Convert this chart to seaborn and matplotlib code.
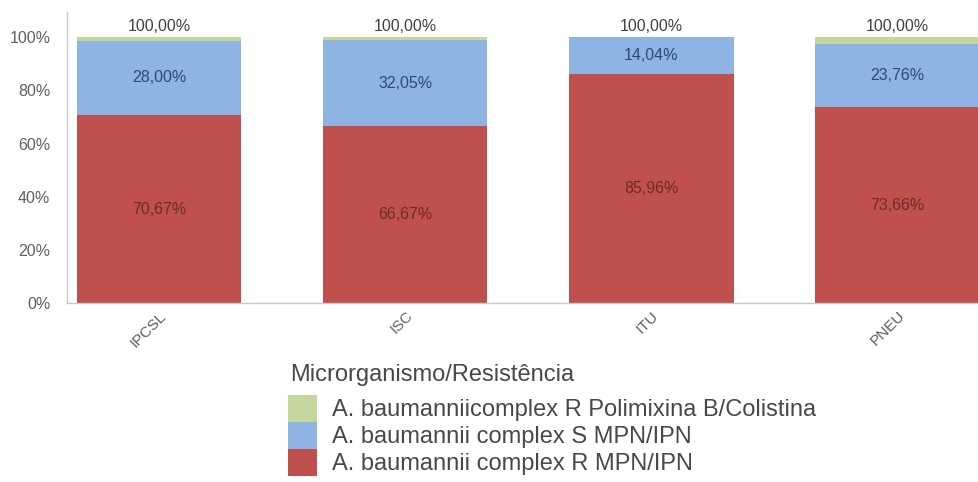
import matplotlib
matplotlib.use("Agg")
import matplotlib.pyplot as plt
import seaborn as sns
from matplotlib.patches import Patch

# ---- data ----
categories = ["IPCSL", "ISC", "ITU", "PNEU"]
r_mpn = [70.67, 66.67, 85.96, 73.66]      # A. baumannii complex R MPN/IPN
s_mpn = [28.00, 32.05, 14.04, 23.76]      # A. baumannii complex S MPN/IPN
r_poli = [1.33, 1.28, 0.00, 2.58]         # A. baumanniicomplex R Polimixina B/Colistina
totals = [100.00, 100.00, 100.00, 100.00]
series_names = ["A. baumanniicomplex R Polimixina B/Colistina",
                "A. baumannii complex S MPN/IPN",
                "A. baumannii complex R MPN/IPN"]
legend_title = "Microrganismo/Resistência"
yticks = [0, 20, 40, 60, 80, 100]

# ---- style ----
sns.set_style("white")
plt.rcParams["font.family"] = ["Liberation Sans", "DejaVu Sans"]

c_red = "#C0504D"
c_blue = "#8DB4E2"
c_green = "#C3D69B"

fig = plt.figure(figsize=(9.79, 4.82), dpi=100)
ax = fig.add_axes([0.0684, 0.371, 0.9326, 0.604])

cum_blue = [a + b for a, b in zip(r_mpn, s_mpn)]
cum_green = [a + b for a, b in zip(cum_blue, r_poli)]

w = 0.667
sns.barplot(x=categories, y=cum_green, color=c_green, saturation=1, width=w, ax=ax, linewidth=0)
sns.barplot(x=categories, y=cum_blue, color=c_blue, saturation=1, width=w, ax=ax, linewidth=0)
sns.barplot(x=categories, y=r_mpn, color=c_red, saturation=1, width=w, ax=ax, linewidth=0)

def fmt(v):
    return f"{v:.2f}%".replace(".", ",")

for i in range(len(categories)):
    ax.text(i, r_mpn[i] / 2, fmt(r_mpn[i]), ha="center", va="center",
            fontsize=11.5, color="#6E2A28")
    ax.text(i, r_mpn[i] + s_mpn[i] / 2, fmt(s_mpn[i]), ha="center", va="center",
            fontsize=11.5, color="#2E4A70")
    ax.text(i, cum_green[i] + 1.2, fmt(totals[i]), ha="center", va="bottom",
            fontsize=11.5, color="#404040")

ax.set_xlim(-0.375, 3.335)
ax.set_ylim(0, 109.4)
ax.set_yticks(yticks)
ax.set_yticklabels([f"{t}%" for t in yticks])
ax.set_xlabel("")
ax.set_ylabel("")
ax.tick_params(axis="y", length=0, pad=12, labelsize=11.5, labelcolor="#5F5F5F")
ax.tick_params(axis="x", length=0, pad=4, labelsize=11, labelcolor="#5F5F5F")
for lab in ax.get_xticklabels():
    lab.set_rotation(45)
    lab.set_ha("right")
    lab.set_rotation_mode("anchor")

for s in ["top", "right"]:
    ax.spines[s].set_visible(False)
for s in ["left", "bottom"]:
    ax.spines[s].set_color("#C8C8C8")
    ax.spines[s].set_linewidth(1)

handles = [Patch(facecolor=c_green, edgecolor="none"),
           Patch(facecolor=c_blue, edgecolor="none"),
           Patch(facecolor=c_red, edgecolor="none")]
leg = fig.legend(handles, series_names, loc="upper left",
                 bbox_to_anchor=(0.294, 1 - 395 / 482), frameon=False, fontsize=17,
                 handlelength=1.23, handleheight=1.38,
                 labelspacing=0.0, handletextpad=0.62, borderpad=0, borderaxespad=0)
for t in leg.get_texts():
    t.set_color("#484848")
fig.text(290 / 979, 1 - 375 / 482, legend_title, ha="left", va="center",
         fontsize=17, color="#484848")

fig.savefig("out.png", dpi=100)
